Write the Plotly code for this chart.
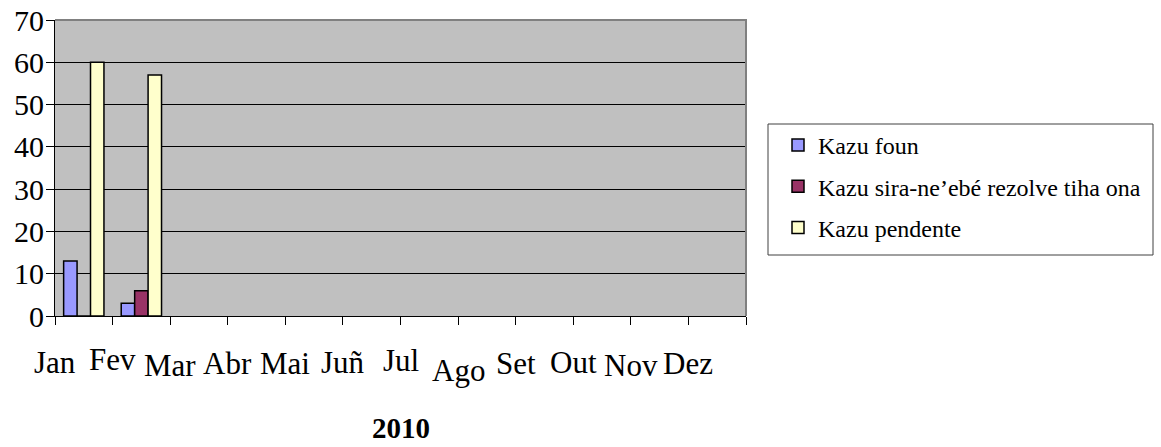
import plotly.graph_objects as go

months = ["Jan", "Fev", "Mar", "Abr", "Mai", "Juñ", "Jul", "Ago", "Set", "Out", "Nov", "Dez"]
kazu_foun = [13, 3, None, None, None, None, None, None, None, None, None, None]
kazu_rezolve = [0, 6, None, None, None, None, None, None, None, None, None, None]
kazu_pendente = [60, 57, None, None, None, None, None, None, None, None, None, None]
series_names = ["Kazu foun", "Kazu sira-ne\u2019ebé rezolve tiha ona", "Kazu pendente"]
year_label = "2010"

colors = ["#9999FF", "#993366", "#FFFFCC"]
label_shift = [0, -3, 3, 1, 1, 0, -2, 8, 1, 0, 3, 1]

W, H = 1161, 447
ML, MR, MT, MB = 55, 415, 20, 131
PW, PH = W - ML - MR, H - MT - MB

def px_x(p):
    return (p - ML) / PW

def px_y(p):
    return (H - MB - p) / PH

FONT = "Liberation Serif"

fig = go.Figure()
for name, vals, col in zip(series_names, [kazu_foun, kazu_rezolve, kazu_pendente], colors):
    fig.add_trace(go.Bar(
        x=months, y=vals, name=name,
        marker=dict(color=col, line=dict(color="black", width=1.5)),
        legendgroup=name,
    ))

annotations = []
for i, m in enumerate(months):
    annotations.append(dict(
        x=i - 0.5, xref="x", y=0, yref="paper", yanchor="top", xanchor="center",
        text=m, showarrow=False, yshift=-27 - label_shift[i],
        font=dict(family=FONT, size=31, color="black"),
    ))
annotations.append(dict(
    x=0.5, xref="paper", y=0, yref="paper", yanchor="top", xanchor="center",
    text="<b>" + year_label + "</b>", showarrow=False, yshift=-95, borderpad=0,
    font=dict(family=FONT, size=29, color="black"),
))

shapes = [
    dict(type="path", xref="paper", yref="paper",
         path="M 0,1 L 1,1 L 1,0", line=dict(color="#808080", width=2), layer="above"),
    dict(type="rect", xref="paper", yref="paper",
         x0=px_x(768), x1=px_x(1153), y0=px_y(255), y1=px_y(124),
         line=dict(color="#404040", width=1), fillcolor="rgba(0,0,0,0)"),
]

fig.update_layout(
    width=W, height=H,
    margin=dict(l=ML, r=MR, t=MT, b=MB, pad=0, autoexpand=False),
    paper_bgcolor="white", plot_bgcolor="#C0C0C0",
    barmode="group", bargap=0.3, bargroupgap=0,
    showlegend=True,
    legend=dict(
        x=px_x(778), y=px_y(123), xanchor="left", yanchor="top",
        bgcolor="rgba(0,0,0,0)", borderwidth=0,
        font=dict(family=FONT, size=24, color="black"),
        tracegroupgap=7,
    ),
    annotations=annotations,
    shapes=shapes,
    font=dict(family=FONT, color="black"),
)
fig.update_xaxes(
    type="category", categoryorder="array", categoryarray=months,
    range=[-0.5, 11.5], showticklabels=False, automargin=False,
    ticks="outside", ticklen=8, tickcolor="black", tickwidth=1,
    tickson="boundaries",
    showline=True, linecolor="black", linewidth=1,
    showgrid=False, zeroline=False,
)
fig.update_yaxes(
    range=[0, 70], dtick=10, tick0=0, automargin=False,
    ticks="outside", ticklen=8, tickcolor="black", tickwidth=1,
    ticklabelstandoff=-4,
    showline=True, linecolor="black", linewidth=1,
    showgrid=True, gridcolor="black", gridwidth=1,
    zeroline=False,
    tickfont=dict(family=FONT, size=30, color="black"),
)

fig.write_html("out.html", config={"displayModeBar": False},
               post_script="document.body.style.margin='0';")
